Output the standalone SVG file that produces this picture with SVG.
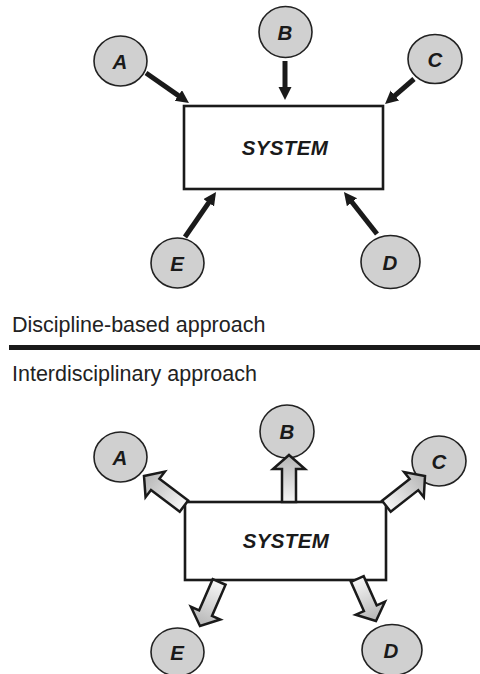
<svg xmlns="http://www.w3.org/2000/svg" width="480" height="674" viewBox="0 0 480 674">
<defs>
<style>
.bg{fill:#ffffff}
.circ{fill:#d0d0d0;stroke:#222;stroke-width:1.6}
.box{fill:#ffffff;stroke:#1a1a1a;stroke-width:2.6}
.lbl{font-family:"Liberation Sans",Arial,sans-serif;font-weight:bold;font-style:italic;font-size:20.5px;fill:#1a1a1a;text-anchor:middle}
.sys{font-family:"Liberation Sans",Arial,sans-serif;font-weight:bold;font-style:italic;font-size:20.5px;letter-spacing:0.4px;fill:#1a1a1a;text-anchor:middle}
.cap{font-family:"Liberation Sans",Arial,sans-serif;font-size:21.5px;fill:#222}
.ln{stroke:#1a1a1a;stroke-width:5;fill:none;marker-end:url(#ah)}
.blk{fill:url(#grad);stroke:#1a1a1a;stroke-width:2.5;stroke-linejoin:miter}
</style>
<marker id="ah" markerUnits="userSpaceOnUse" markerWidth="14" markerHeight="14" refX="5" refY="6.5" orient="auto">
<path d="M0,0 L13,6.5 L0,13 Z" fill="#1a1a1a"/>
</marker>
<linearGradient id="grad" x1="0" y1="0" x2="0" y2="1">
<stop offset="0" stop-color="#b5b5b5"/>
<stop offset="1" stop-color="#f6f6f6"/>
</linearGradient>
</defs>
<rect class="bg" x="0" y="0" width="480" height="674"/>

<!-- Discipline-based section -->
<g id="top-system"><rect class="box" x="184" y="106" width="199" height="83"/><text class="sys" x="285" y="155">SYSTEM</text></g>
<g id="top-A"><ellipse class="circ" cx="120.5" cy="61" rx="26.5" ry="25"/><text class="lbl" x="120" y="68.5">A</text></g>
<g id="top-B"><ellipse class="circ" cx="285.5" cy="32" rx="26.5" ry="25.5"/><text class="lbl" x="285" y="39.5">B</text></g>
<g id="top-C"><ellipse class="circ" cx="435" cy="59" rx="27" ry="24.5"/><text class="lbl" x="435" y="66.5">C</text></g>
<g id="top-E"><ellipse class="circ" cx="177.5" cy="263" rx="26.5" ry="25"/><text class="lbl" x="177" y="270.5">E</text></g>
<g id="top-D"><ellipse class="circ" cx="390.5" cy="262" rx="29.5" ry="26.5"/><text class="lbl" x="390" y="269.5">D</text></g>
<g id="top-connectors">
<line class="ln" x1="146" y1="73" x2="182.4" y2="98.4"/>
<line class="ln" x1="285" y1="61" x2="285" y2="92"/>
<line class="ln" x1="414" y1="79" x2="391.1" y2="98.8"/>
<line class="ln" x1="185" y1="237" x2="211.5" y2="198.6"/>
<line class="ln" x1="377" y1="234" x2="348.9" y2="198.3"/>
</g>

<text class="cap" x="12" y="332">Discipline-based approach</text>
<rect x="9" y="345" width="471" height="5" fill="#1a1a1a"/>
<text class="cap" x="12" y="381">Interdisciplinary approach</text>

<!-- Interdisciplinary section -->
<g id="bot-system"><rect class="box" x="185" y="502" width="201" height="78"/><text class="sys" x="286" y="548">SYSTEM</text></g>
<g id="bot-A"><ellipse class="circ" cx="120.5" cy="457" rx="26.5" ry="25"/><text class="lbl" x="120" y="464.5">A</text></g>
<g id="bot-B"><ellipse class="circ" cx="287" cy="431.5" rx="27" ry="26.5"/><text class="lbl" x="287" y="439">B</text></g>
<g id="bot-C"><ellipse class="circ" cx="439" cy="461" rx="27" ry="25"/><text class="lbl" x="439" y="468.5">C</text></g>
<g id="bot-E"><ellipse class="circ" cx="177.5" cy="652" rx="26.5" ry="24"/><text class="lbl" x="177" y="659.5">E</text></g>
<g id="bot-D"><ellipse class="circ" cx="392" cy="650" rx="30" ry="25.5"/><text class="lbl" x="391" y="657.5">D</text></g>
<g id="bot-connectors">
<polygon class="blk" transform="translate(289,455)" points="0,0 16,14 7,14 7,47 -7,47 -7,14 -16,14"/>
<polygon class="blk" transform="translate(144,476) rotate(-53)" points="0,0 16,14 7,14 7,50 -7,50 -7,14 -16,14"/>
<polygon class="blk" transform="translate(425,476) rotate(52)" points="0,0 16,14 7,14 7,49 -7,49 -7,14 -16,14"/>
<polygon class="blk" transform="translate(200,626) rotate(203.5)" points="0,0 16,14 7,14 7,48 -7,48 -7,14 -16,14"/>
<polygon class="blk" transform="translate(376,621) rotate(156)" points="0,0 16,14 7,14 7,46 -7,46 -7,14 -16,14"/>
</g>
</svg>
